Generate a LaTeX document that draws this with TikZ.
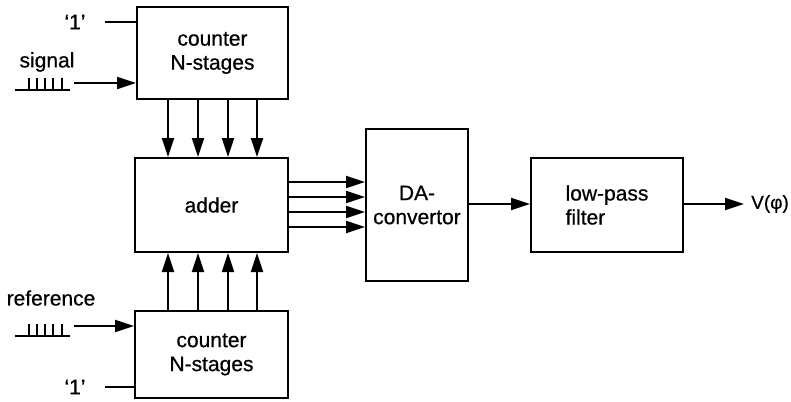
\documentclass[tikz,border=0pt]{standalone}
\usepackage{fontspec}
\setmainfont{Liberation Sans}[FakeBold=0.6]
\usetikzlibrary{arrows.meta}
\begin{document}
\begin{tikzpicture}[x=1pt,y=-1pt,
  box/.style={draw, line width=2pt, inner sep=0pt, font=\fontsize{21}{24}\selectfont, align=center},
  arr/.style={line width=1.8pt, -{Triangle[length=19pt,width=12pt]}},
  ln/.style={line width=1.8pt},
  lbl/.style={font=\fontsize{21}{24}\selectfont, inner sep=0pt}]
\useasboundingbox (0,0) rectangle (791,401);
% boxes
\node[box, minimum width=151pt, minimum height=92pt] (c1) at (212.5,53) {counter\\N-stages};
\node[box, minimum width=153pt, minimum height=94pt] (add) at (211.5,205) {adder};
\node[box, minimum width=153pt, minimum height=87pt] (c2) at (211.5,354.5) {counter\\N-stages};
\node[box, minimum width=102pt, minimum height=152pt] (da) at (417,205) {DA-\\convertor};
\node[box, minimum width=152pt, minimum height=94pt, align=left] (lp) at (607,205) {low-pass\\filter};
% labels
\node[lbl] (one1) at (75,22) {‘1’};
\node[lbl] (sig) at (47,62) {signal};
\node[lbl] (ref) at (51,298) {reference};
\node[lbl] (one2) at (75,387) {‘1’};
\node[lbl, anchor=west, font=\fontsize{19}{22}\selectfont] (out) at (751,204) {V(φ)};
\coordinate (s1) at (74,83);
\coordinate (s2) at (74,326);
\coordinate (o1) at (105,22);
\coordinate (o2) at (105,387);
% '1' inputs
\draw[ln] (o1) -- (o1 -| c1.west);
\draw[ln] (o2) -- (o2 -| c2.west);
% signal inputs
\draw[arr] (s1) -- (s1 -| c1.west);
\draw[arr] (s2) -- (s2 -| c2.west);
% pulse trains
\draw[ln] (15,90) -- (70,90);
\foreach \x in {29,37,45,53,62} \draw[line width=1.5pt] (\x,90) -- (\x,78);
\draw[ln] (15,336) -- (70,336);
\foreach \x in {29,37,45,53,62} \draw[line width=1.5pt] (\x,336) -- (\x,324);
% buses
\foreach \x in {168,198,228,257} {
  \draw[arr] (c1.south -| \x,0) -- (add.north -| \x,0);
  \draw[arr] (c2.north -| \x,0) -- (add.south -| \x,0);
}
\foreach \y in {182,197,212,227}
  \draw[arr] (add.east |- 0,\y) -- (da.west |- 0,\y);
\draw[arr] (da.east |- 0,204) -- (lp.west |- 0,204);
\draw[arr] (lp.east |- 0,204) -- ([xshift=-7pt]out.west);
\end{tikzpicture}
\end{document}
